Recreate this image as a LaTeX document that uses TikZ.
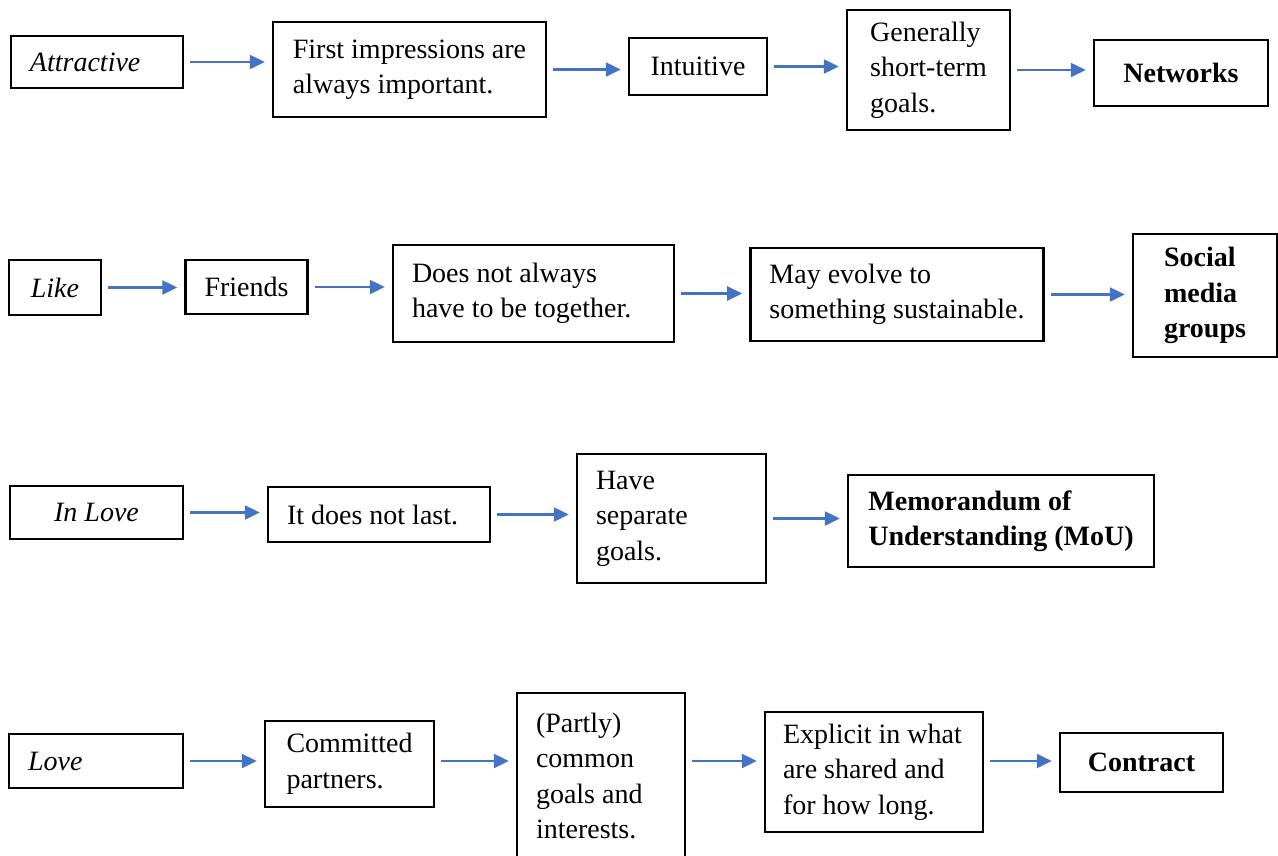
\documentclass[tikz,border=0pt]{standalone}
\usepackage{fontspec}
\setmainfont{Liberation Serif}
\usetikzlibrary{arrows.meta}
\definecolor{linkblue}{RGB}{68,114,196}

\begin{document}
\begin{tikzpicture}[x=1pt, y=-1pt,
    box/.style={draw, line width=2.5pt, inner xsep=19pt, inner ysep=0pt, align=flush left,
        font=\fontsize{28}{35.5}\selectfont},
    key/.style={box, font=\fontsize{28}{35.5}\selectfont\bfseries},
    link/.style={draw=linkblue, line width=2.5pt, -{Triangle[length=15pt,width=14pt]},
        shorten <=6pt, shorten >=7pt}]
    \useasboundingbox (0,0) rectangle (1278,855);

    % row 1
    \node[box, text width=134pt, minimum height=52pt] (att) at (97,62) {\itshape Attractive};
    \node[box, minimum width=273pt, minimum height=95pt] (first) at (409.5,69.5) {First impressions are\\always important.};
    \node[box, minimum width=138pt, minimum height=57pt] (intu) at (698,66.5) {Intuitive};
    \node[box, minimum width=163pt, minimum height=120pt] (short) at (928.5,70) {Generally\\short-term\\goals.};
    \node[key, minimum width=174pt, minimum height=66pt] (net) at (1181,73) {Networks};

    % row 2
    \node[box, minimum width=92pt, minimum height=55pt] (like) at (55,287.5) {\itshape Like};
    \node[box, minimum width=121pt, minimum height=54pt] (friend) at (246.5,287) {Friends};
    \node[box, text width=243pt, minimum height=97pt] (apart) at (533.5,293.5) {Does not always\\have to be together.};
    \node[box, minimum width=290pt, minimum height=93pt] (evolve) at (897,294.5) {May evolve to\\something sustainable.};
    \node[key, minimum width=144pt, minimum height=123pt] (social) at (1205,295.5) {Social\\media\\groups};

    % row 3
    \node[box, minimum width=173pt, minimum height=53pt] (inlove) at (96.5,512.5) {\itshape In Love};
    \node[box, text width=184pt, minimum height=55pt] (last) at (379,514.5) {It does not last.};
    \node[box, text width=151pt, minimum height=129pt] (sep) at (671.5,518.5) {Have\\separate\\goals.};
    \node[key, minimum width=306pt, minimum height=92pt] (mou) at (1001,521) {Memorandum of\\Understanding (MoU)};

    % row 4
    \node[box, text width=136pt, minimum height=54pt] (love) at (96,761) {\itshape Love};
    \node[box, minimum width=169pt, minimum height=86pt] (partner) at (349.5,764) {Committed\\partners.};
    \node[box, text width=130pt, minimum height=166pt] (common) at (601,776) {(Partly)\\common\\goals and\\interests.};
    \node[box, inner xsep=18pt, text width=182pt, minimum height=120pt] (explicit) at (874,772) {Explicit in what\\are shared and\\for how long.};
    \node[key, minimum width=163pt, minimum height=59pt] (contract) at (1141.5,762.5) {Contract};

    \draw[link] (att.east) -- (att.east -| first.west);
    \draw[link] (first.east) -- (first.east -| intu.west);
    \draw[link] (intu.east) -- (intu.east -| short.west);
    \draw[link] (short.east) -- (short.east -| net.west);

    \draw[link] (like.east) -- (like.east -| friend.west);
    \draw[link] (friend.east) -- (friend.east -| apart.west);
    \draw[link] (apart.east) -- (apart.east -| evolve.west);
    \draw[link] (evolve.east) -- (evolve.east -| social.west);

    \draw[link] (inlove.east) -- (inlove.east -| last.west);
    \draw[link] (last.east) -- (last.east -| sep.west);
    \draw[link] (sep.east) -- (sep.east -| mou.west);

    \draw[link] (love.east) -- (love.east -| partner.west);
    \draw[link] (partner.east |- love.east) -- (common.west |- love.east);
    \draw[link] (common.east |- love.east) -- (explicit.west |- love.east);
    \draw[link] (explicit.east |- love.east) -- (contract.west |- love.east);
\end{tikzpicture}
\end{document}
